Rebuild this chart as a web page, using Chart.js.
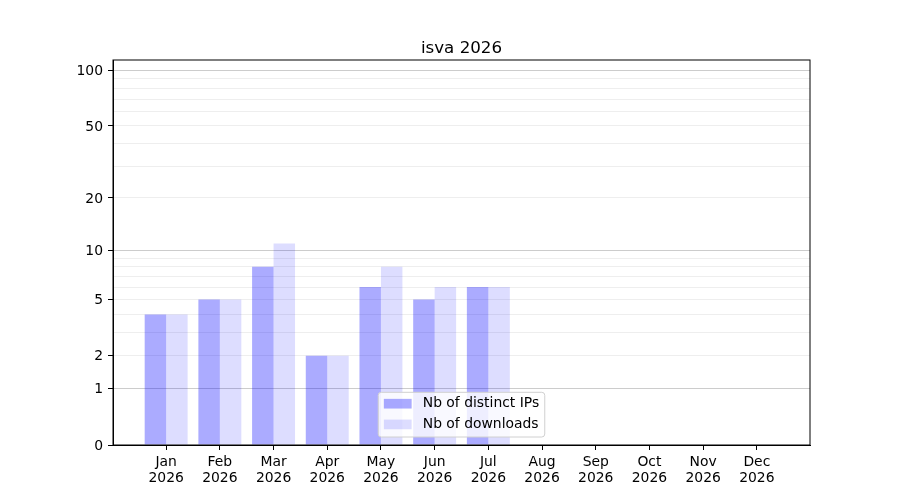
<!DOCTYPE html>
<html>
<head>
<meta charset="utf-8">
<script src="https://cdn.jsdelivr.net/npm/chart.js@4.4.1/dist/chart.umd.min.js"></script>
<style>
  html, body { margin: 0; padding: 0; background: #fff; }
  #wrap { width: 900px; height: 500px; position: relative; }
</style>
</head>
<body>
<div id="wrap"><canvas id="chart"></canvas></div>
<script>
const months = ["Jan", "Feb", "Mar", "Apr", "May", "Jun", "Jul", "Aug", "Sep", "Oct", "Nov", "Dec"];
const year = "2026";
const distinctIps = [4, 5, 8, 2, 6, 5, 6, 0, 0, 0, 0, 0];
const downloads = [4, 5, 11, 2, 8, 6, 6, 0, 0, 0, 0, 0];
const yTicks = [0, 1, 2, 3, 4, 5, 6, 7, 8, 9, 10, 20, 30, 40, 50, 60, 70, 80, 90, 100];
const yLabels = [0, 1, 2, 5, 10, 20, 50, 100];
const yMajor = [1, 10, 100];

const FONT = "'DejaVu Sans', sans-serif";

// y axis drawn as log10(1 + v)
class Log1pScale extends Chart.LinearScale {
  static id = "log1p";
  static defaults = Chart.LinearScale.defaults;
  buildTicks() {
    return yTicks.map((v) => ({ value: v }));
  }
  configure() {
    super.configure();
    this._t0 = Math.log10(1 + this.min);
    this._tr = Math.log10(1 + this.max) - this._t0;
  }
  getPixelForValue(v) {
    return this.getPixelForDecimal((Math.log10(1 + v) - this._t0) / this._tr);
  }
  getValueForPixel(p) {
    return Math.pow(10, this._t0 + this.getDecimalForPixel(p) * this._tr) - 1;
  }
}
Chart.register(Log1pScale);

const titleText = "isva " + year;

const framePlugin = {
  id: "frame",
  afterDatasetsDraw(chart) {
    const { ctx, chartArea: a } = chart;
    ctx.save();
    ctx.strokeStyle = "#000";
    ctx.lineWidth = 1;
    ctx.strokeRect(a.left, a.top, a.right - a.left, a.bottom - a.top);
    // title, centred over the plot area
    ctx.fillStyle = "#000";
    ctx.font = "16.7px " + FONT;
    ctx.textAlign = "center";
    ctx.textBaseline = "alphabetic";
    ctx.fillText(titleText, (a.left + a.right) / 2, a.top - 7.5);
    ctx.restore();
  },
};

const legendPlugin = {
  id: "boxLegend",
  afterDraw(chart) {
    const { ctx, chartArea: a } = chart;
    const fs = 13.9;
    ctx.save();
    ctx.font = fs + "px " + FONT;
    const sets = chart.data.datasets;
    let tw = 0;
    sets.forEach((d) => { tw = Math.max(tw, ctx.measureText(d.label).width); });
    const pad = 5.6, patchW = 27.8, patchH = 9.7, gap = 11.1, rowH = 20.7;
    const w = pad * 2 + patchW + gap + tw;
    const h = 11.4 + rowH * (sets.length - 1) + 12.6;
    const x = (a.left + a.right) / 2 - w / 2;
    const y = a.bottom - 8 - h;
    ctx.beginPath();
    ctx.roundRect(x, y, w, h, 3);
    ctx.fillStyle = "rgba(255,255,255,0.8)";
    ctx.fill();
    ctx.strokeStyle = "#d0d0d0";
    ctx.lineWidth = 1;
    ctx.stroke();
    sets.forEach((d, i) => {
      const cy = y + 11.4 + i * rowH;
      ctx.fillStyle = d.backgroundColor;
      ctx.fillRect(x + pad, cy - patchH / 2, patchW, patchH);
      ctx.fillStyle = "#000";
      ctx.textBaseline = "middle";
      ctx.fillText(d.label, x + pad + patchW + gap, cy);
    });
    ctx.restore();
  },
};

const toXY = (vals) => vals.map((v, i) => ({ x: i, y: v }));

new Chart(document.getElementById("chart"), {
  type: "bar",
  data: {
    datasets: [
      {
        label: "Nb of distinct IPs",
        data: toXY(distinctIps),
        backgroundColor: "rgba(0,0,255,0.33)",
      },
      {
        label: "Nb of downloads",
        data: toXY(downloads),
        backgroundColor: "rgba(0,0,255,0.135)",
      },
    ],
  },
  options: {
    responsive: true,
    maintainAspectRatio: false,
    animation: false,
    categoryPercentage: 0.8,
    barPercentage: 1.0,
    layout: { padding: { left: 0, right: 90, top: 60, bottom: 0 } },
    plugins: {
      legend: { display: false },
      tooltip: { enabled: false },
      title: { display: false },
    },
    scales: {
      x: {
        type: "linear",
        min: -0.99,
        max: 11.99,
        offset: false,
        afterBuildTicks: (s) => { s.ticks = months.map((m, i) => ({ value: i })); },
        afterFit: (s) => { s.height = 55; },
        border: { display: true, color: "#000" },
        grid: { offset: false, drawOnChartArea: false, tickLength: 5, tickColor: "#000" },
        ticks: {
          autoSkip: false,
          maxRotation: 0,
          padding: 5,
          color: "#000",
          font: { family: FONT, size: 13.9, lineHeight: 1.1 },
          callback: (v) => [months[v], year],
        },
      },
      y: {
        type: "log1p",
        min: 0,
        max: 114,
        afterFit: (s) => { s.width = 113; },
        border: { display: true, color: "#000" },
        grid: {
          tickLength: 5,
          color: (c) => c.tick.value === 0 ? "rgba(0,0,0,0)" : (yMajor.includes(c.tick.value) ? "#cccccc" : "#eeeeee"),
          tickColor: (c) => yLabels.includes(c.tick.value) ? "#000" : "rgba(0,0,0,0)",
        },
        ticks: {
          padding: 5,
          labelOffset: 1,
          color: "#000",
          font: { family: FONT, size: 13.9 },
          callback: (v) => yLabels.includes(v) ? String(v) : "",
        },
      },
    },
  },
  plugins: [framePlugin, legendPlugin],
});
</script>
</body>
</html>
